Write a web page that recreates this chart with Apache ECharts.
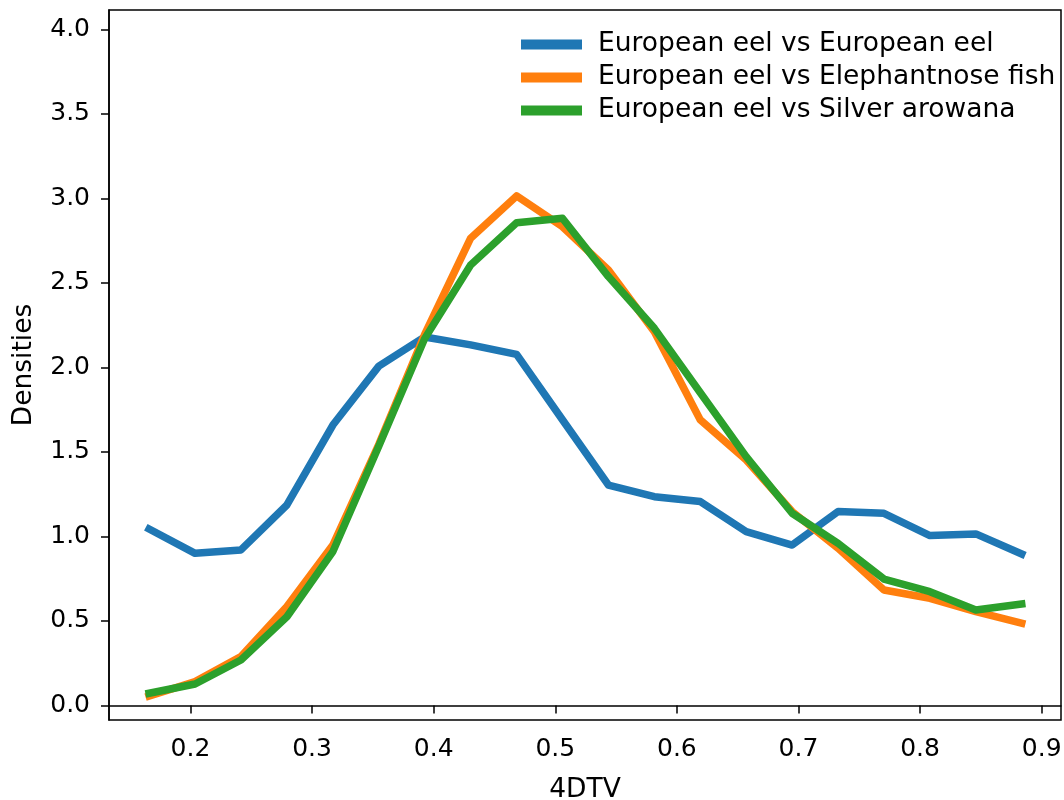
<!DOCTYPE html>
<html>
<head>
<meta charset="utf-8">
<script src="https://cdn.jsdelivr.net/npm/echarts@6/dist/echarts.min.js"></script>
<style>html,body{margin:0;padding:0;background:#fff}#c{width:1064px;height:800px}</style>
</head>
<body>
<div id="c"></div>
<script>
const xValues = [0.1660, 0.2038, 0.2415, 0.2793, 0.3171, 0.3549, 0.3926, 0.4304, 0.4682, 0.5059,
                 0.5437, 0.5815, 0.6193, 0.6570, 0.6948, 0.7326, 0.7703, 0.8081, 0.8459, 0.8836];
const eelVsEel = [1.044, 0.900, 0.920, 1.186, 1.659, 2.007, 2.180, 2.133, 2.077, 1.690,
                  1.304, 1.235, 1.206, 1.028, 0.949, 1.147, 1.137, 1.005, 1.015, 0.896];
const eelVsElephantnose = [0.056, 0.141, 0.289, 0.585, 0.949, 1.545, 2.195, 2.764, 3.014, 2.832,
                           2.576, 2.211, 1.689, 1.452, 1.147, 0.930, 0.683, 0.634, 0.555, 0.486];
const eelVsArowana = [0.072, 0.127, 0.269, 0.525, 0.910, 1.535, 2.170, 2.606, 2.856, 2.882,
                      2.537, 2.231, 1.850, 1.472, 1.137, 0.959, 0.748, 0.673, 0.565, 0.600];
const seriesNames = ['European eel vs European eel', 'European eel vs Elephantnose fish', 'European eel vs Silver arowana'];
const xTicks = [0.2, 0.3, 0.4, 0.5, 0.6, 0.7, 0.8, 0.9];
const yTicks = [0.0, 0.5, 1.0, 1.5, 2.0, 2.5, 3.0, 3.5, 4.0];
const colors = ['#1f77b4', '#ff7f0e', '#2ca02c'];

const font = 'DejaVu Sans';
const pair = arr => xValues.map((x, i) => [x, arr[i]]);
const mk = (name, arr, color) => ({
  name, type: 'line', data: pair(arr), showSymbol: false, symbol: 'none',
  lineStyle: { width: 7.5, color, cap: 'square', join: 'round' },
  itemStyle: { color }, animation: false
});

const chart = echarts.init(document.getElementById('c'));
chart.setOption({
  animation: false,
  color: colors,
  grid: { left: 109, top: 10, right: 3, bottom: 80, outerBoundsMode: 'none', containLabel: false,
          show: true, borderColor: '#000', borderWidth: 1.5, backgroundColor: 'transparent' },
  legend: {
    orient: 'vertical', left: 516, top: 26,
    icon: 'rect', itemWidth: 61, itemHeight: 10, itemGap: 6,
    textStyle: { fontFamily: font, fontSize: 26.5, color: '#000', lineHeight: 27, padding: [0, 0, 0, 11] },
    data: seriesNames
  },
  xAxis: {
    type: 'value', min: 0.1330, max: 0.9159,
    name: '4DTV', nameLocation: 'middle', nameGap: 57,
    nameTextStyle: { fontFamily: font, fontSize: 26.5, color: '#000' },
    axisLine: { show: true, lineStyle: { color: '#000', width: 1.5 } },
    axisTick: { show: true, customValues: xTicks, length: 8, lineStyle: { color: '#000', width: 1.5 } },
    axisLabel: { customValues: xTicks, fontFamily: font, fontSize: 25, color: '#000', margin: 17, formatter: v => v.toFixed(1) },
    splitLine: { show: false }
  },
  yAxis: {
    type: 'value', min: -0.086, max: 4.114,
    name: 'Densities', nameLocation: 'middle', nameGap: 71, nameRotate: 90,
    nameTextStyle: { fontFamily: font, fontSize: 26.5, color: '#000' },
    axisLine: { show: true, lineStyle: { color: '#000', width: 1.5 } },
    axisTick: { show: true, customValues: yTicks, length: 8, lineStyle: { color: '#000', width: 1.5 } },
    axisLabel: { customValues: yTicks, fontFamily: font, fontSize: 25, color: '#000', margin: 19, formatter: v => v.toFixed(1) },
    splitLine: { show: false }
  },
  series: [
    mk(seriesNames[0], eelVsEel, colors[0]),
    mk(seriesNames[1], eelVsElephantnose, colors[1]),
    mk(seriesNames[2], eelVsArowana, colors[2])
  ]
});
</script>
</body>
</html>
